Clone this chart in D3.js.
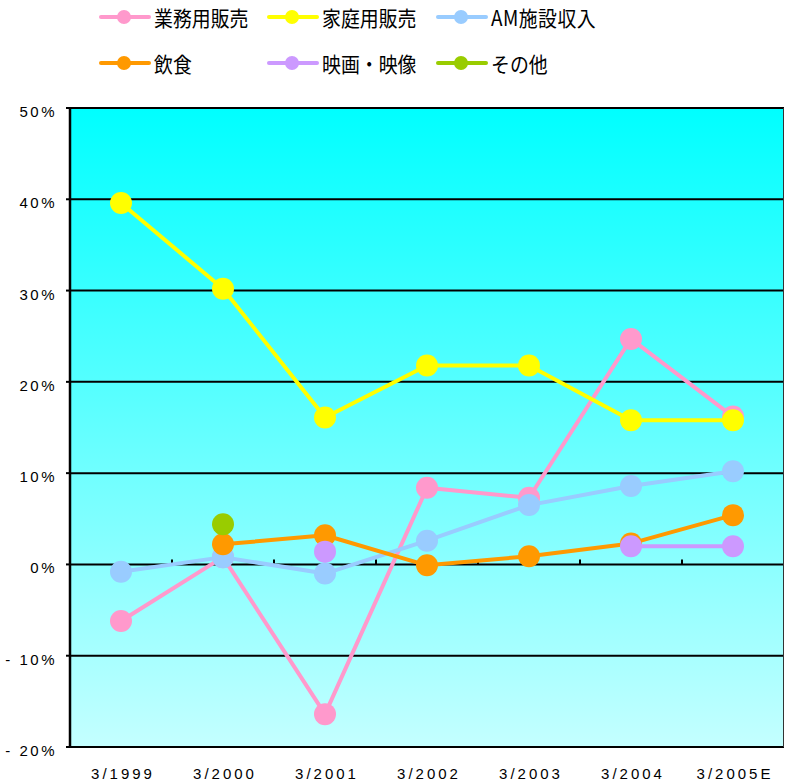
<!DOCTYPE html>
<html><head><meta charset="utf-8">
<script src="https://cdn.jsdelivr.net/npm/d3@7"></script>
<style>body{margin:0;background:#fff;} svg{display:block;}</style>
</head><body>
<svg id="c" width="785" height="784"></svg>
<script>
const categories = ["3/1999","3/2000","3/2001","3/2002","3/2003","3/2004","3/2005E"];
const seriesNames = ["業務用販売","家庭用販売","AM施設収入","飲食","映画・映像","その他"];
const seriesColors = ["#ff99cc","#ffff00","#99ccff","#ff9900","#cc99ff","#99cc00"];
const gyoumu   = [-6.2, 0.8, -16.4, 8.4, 7.3, 24.7, 16.2];
const katei    = [39.6, 30.2, 16.1, 21.8, 21.8, 15.8, 15.8];
const amShisetsu = [-0.8, 0.8, -1.0, 2.6, 6.5, 8.6, 10.2];
const inshoku  = [null, 2.2, 3.2, -0.1, 0.9, 2.3, 5.4];
const eiga     = [null, null, 1.4, null, null, 2.0, 2.0];
const sonota   = [null, 4.4, null, null, null, null, null];
const seriesValues = [gyoumu, katei, amShisetsu, inshoku, eiga, sonota];
const yTicks = [-20,-10,0,10,20,30,40,50];

const svg = d3.select("#c");
const L = 70, R = 784, T = 108, B = 747;
const x = d3.scaleBand().domain(categories).range([L, R]);
const y = d3.scaleLinear().domain([-20, 50]).range([B, T]);

const defs = svg.append("defs");
const g = defs.append("linearGradient").attr("id","bg").attr("x1",0).attr("y1",0).attr("x2",0).attr("y2",1);
g.append("stop").attr("offset","0%").attr("stop-color","#00ffff");
g.append("stop").attr("offset","100%").attr("stop-color","#c4ffff");
svg.append("rect").attr("x",L).attr("y",T).attr("width",R-L).attr("height",B-T).attr("fill","url(#bg)");

// gridlines
svg.append("g").selectAll("line").data(yTicks).join("line")
  .attr("x1",L).attr("x2",R).attr("y1",d=>y(d)).attr("y2",d=>y(d))
  .attr("stroke","#000").attr("stroke-width",2);
// border
svg.append("line").attr("x1",L).attr("x2",L).attr("y1",T-1).attr("y2",B+1).attr("stroke","#000").attr("stroke-width",2.5);
svg.append("line").attr("x1",R-0.5).attr("x2",R-0.5).attr("y1",T).attr("y2",B).attr("stroke","#333").attr("stroke-width",1);
// y ticks
svg.append("g").selectAll("line").data(yTicks).join("line")
  .attr("x1",L-4).attr("x2",L).attr("y1",d=>y(d)).attr("y2",d=>y(d)).attr("stroke","#000").attr("stroke-width",2);
// x ticks on zero line
const bounds = categories.slice(1).map(c => x(c));
svg.append("g").selectAll("line").data(bounds).join("line")
  .attr("x1",d=>d).attr("x2",d=>d).attr("y1",y(0)-5).attr("y2",y(0))
  .attr("stroke","#000").attr("stroke-width",2);

// y labels
svg.append("g").selectAll("text").data(yTicks).join("text")
  .attr("x",57).attr("y",d=>y(d)+9).attr("text-anchor","end")
  .attr("font-family","Liberation Sans, Arial, sans-serif").attr("font-size",15)
  .style("letter-spacing","2.5px").attr("fill","#000")
  .text(d => d < 0 ? "- " + Math.abs(d) + "%" : d + "%");
// x labels
svg.append("g").selectAll("text").data(categories).join("text")
  .attr("x",d=>x(d)+x.bandwidth()/2+2).attr("y",779).attr("text-anchor","middle")
  .attr("font-family","Liberation Sans, Arial, sans-serif").attr("font-size",15)
  .style("letter-spacing","3px").attr("fill","#000")
  .text(d=>d);

// series
const cx = c => x(c) + x.bandwidth()/2;
const line = d3.line().defined(d => d.v != null).x(d => cx(d.c)).y(d => y(d.v));
seriesValues.forEach((vals, i) => {
  const pts = vals.map((v, j) => ({c: categories[j], v}));
  const sg = svg.append("g");
  sg.append("path").datum(pts).attr("d", line).attr("fill","none")
    .attr("stroke", seriesColors[i]).attr("stroke-width",4).attr("stroke-linejoin","round");
  sg.selectAll("circle").data(pts.filter(d => d.v != null)).join("circle")
    .attr("cx", d => cx(d.c)).attr("cy", d => y(d.v)).attr("r", 11).attr("fill", seriesColors[i]);
});

// legend
const legX = [101, 269, 438], legY = [17, 63];
seriesNames.forEach((n, i) => {
  const lx = legX[i % 3], ly = legY[Math.floor(i / 3)];
  const lg = svg.append("g");
  lg.append("line").attr("x1",lx).attr("x2",lx+48).attr("y1",ly).attr("y2",ly)
    .attr("stroke",seriesColors[i]).attr("stroke-width",4).attr("stroke-linecap","round");
  lg.append("circle").attr("cx",lx+23).attr("cy",ly).attr("r",7).attr("fill",seriesColors[i]);
  lg.append("text").attr("transform",`translate(${lx+53},${ly+9}) scale(0.9,1)`)
    .attr("font-family","Noto Sans CJK JP, sans-serif").attr("font-size",21).attr("fill","#000")
    .style("letter-spacing", i === 2 ? "0.5px" : "0px")
    .text(n);
});
</script>
</body></html>
